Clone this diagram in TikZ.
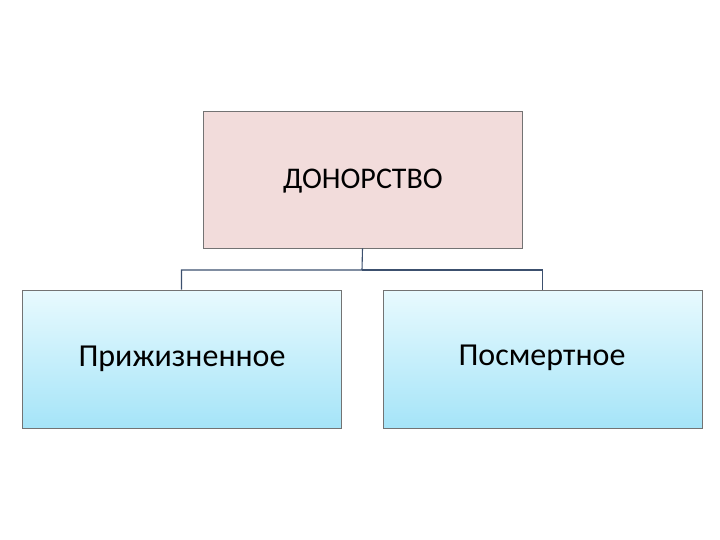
\documentclass[tikz,border=0pt]{standalone}
\usepackage{fontspec}
\setmainfont{Carlito}
\begin{document}
\begin{tikzpicture}[x=1pt,y=-1pt,
  topbox/.style={draw=black!55,line width=0.6pt,fill={rgb,255:red,242;green,220;blue,219},minimum width=319pt,minimum height=137pt,inner sep=0pt},
  subbox/.style={draw=black!55,line width=0.6pt,top color={rgb,255:red,232;green,250;blue,254},bottom color={rgb,255:red,165;green,228;blue,248},minimum width=319pt,minimum height=138pt,inner sep=0pt},
  conn/.style={draw={rgb,255:red,60;green,80;blue,110},line width=1.1pt}]
\useasboundingbox (0,0) rectangle (720,540);
\node[topbox] (top) at (362.5,179.5) {};
\node[font=\fontsize{30}{34}\selectfont] (tt) at (363,181) {ДОНОРСТВО};
\node[subbox] (l) at (181.5,359) {};
\node[subbox] (r) at (542.5,359) {};
\node[font=\fontsize{32}{36}\selectfont] (lt) at (182,359) {Прижизненное};
\node[font=\fontsize{32}{36}\selectfont] (rt) at (542,358) {Посмертное};
\coordinate (m) at (362,270);
\draw[conn] (top.south) -- (m) -| (l.north);
\draw[conn] (m) -| (r.north);
\end{tikzpicture}
\end{document}
